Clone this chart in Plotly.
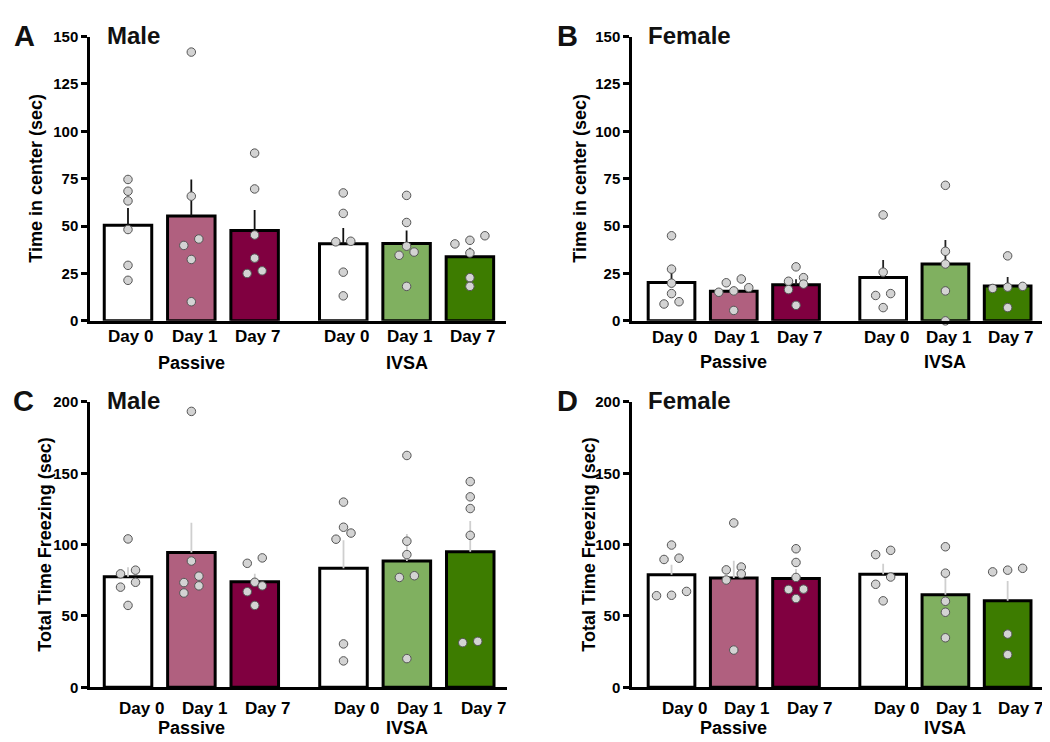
import plotly.graph_objects as go

# ---------------- data ----------------
days = ["Day 0", "Day 1", "Day 7"]
groups = ["Passive", "IVSA"]
bar_colors = ["#ffffff", "#b0607f", "#800040", "#ffffff", "#80b060", "#3d7c00"]

# Panel A: Male, time in center (sec)
a_mean = [50.5, 55.3, 47.7, 40.7, 40.8, 33.8]
a_sem = [9.0, 19.3, 10.8, 8.3, 6.9, 4.8]
a_points = [
    [74.6, 68.4, 63.3, 48.2, 29.3, 21.4],
    [141.8, 65.8, 43.2, 39.8, 32.4, 10.1],
    [88.5, 69.6, 45.3, 33.1, 26.4, 25.0],
    [67.5, 56.7, 41.7, 42.0, 25.7, 13.2],
    [66.2, 51.9, 36.3, 39.4, 34.6, 18.2],
    [42.5, 44.9, 40.6, 35.8, 22.8, 18.2],
]

# Panel B: Female, time in center (sec)
b_mean = [20.2, 15.6, 19.0, 22.9, 30.0, 18.4]
b_sem = [6.4, 2.4, 3.0, 9.2, 12.7, 4.7]
b_points = [
    [44.9, 27.3, 19.9, 14.4, 10.1, 8.9],
    [22.1, 20.1, 17.5, 15.1, 15.8, 5.5],
    [28.5, 20.9, 22.8, 19.4, 16.5, 8.2],
    [55.9, 25.7, 14.4, 13.4, 7.0],
    [71.5, 36.7, 30.0, 15.8, 0.0],
    [34.3, 18.2, 17.1, 17.8, 7.0],
]

# Panel C: Male, total time freezing (sec)
c_mean = [77.5, 94.5, 74.0, 83.4, 88.5, 95.0]
c_sem = [6.6, 20.9, 5.5, 19.6, 18.9, 21.6]
c_points = [
    [104.0, 82.1, 79.5, 73.6, 70.2, 57.4],
    [193.4, 88.5, 77.9, 73.4, 71.1, 66.1],
    [90.7, 86.9, 73.6, 71.1, 67.0, 57.4],
    [129.8, 112.2, 103.8, 108.1, 30.4, 18.5],
    [162.5, 102.4, 93.0, 78.2, 77.0, 20.1],
    [144.2, 133.5, 125.3, 106.5, 31.3, 32.2],
]

# Panel D: Female, total time freezing (sec)
d_mean = [78.8, 76.6, 76.3, 79.3, 64.8, 60.7]
d_sem = [7.1, 12.1, 6.7, 7.3, 12.9, 13.8]
d_points = [
    [99.7, 90.5, 89.6, 67.2, 64.2, 64.5],
    [115.2, 82.3, 84.3, 79.5, 75.2, 26.1],
    [97.1, 87.5, 77.0, 68.8, 68.6, 62.2],
    [96.0, 93.0, 77.3, 72.2, 60.6],
    [98.5, 80.0, 60.3, 52.6, 34.7],
    [82.1, 83.4, 80.9, 37.3, 22.9],
]

# ---------------- layout helpers ----------------
W, H = 1050, 742
FONT = "Liberation Sans"
positions = [0, 1, 2, 3.4, 4.4, 5.4]
BAR_W = 0.75

panels = [
    dict(key="", letter="A", title="Male", ytitle="Time in center (sec)",
         mean=a_mean, sem=a_sem, pts=a_points, px=(82, 498), py=(20, 311),
         xr=[-0.6, 5.97], yr=[0, 150], dt=25, ebc="#111111", ytx=28,
         lx=16, tx=97, ty=19, day_y=326.5, grp_y=354, dshift=3),
    dict(key="2", letter="B", title="Female", ytitle="Time in center (sec)",
         mean=b_mean, sem=b_sem, pts=b_points, px=(624, 1037), py=(20, 311),
         xr=[-0.635, 6.0], yr=[0, 150], dt=25, ebc="#222222", ytx=572,
         lx=559, tx=638, ty=19, day_y=328, grp_y=353, dshift=3),
    dict(key="3", letter="C", title="Male", ytitle="Total Time Freezing (sec)",
         mean=c_mean, sem=c_sem, pts=c_points, px=(82, 499), py=(394, 686),
         xr=[-0.6, 5.98], yr=[0, 200], dt=50, ebc="#cfcfcf", ytx=37,
         lx=15, tx=97, ty=393, day_y=708, grp_y=728, dshift=13),
    dict(key="4", letter="D", title="Female", ytitle="Total Time Freezing (sec)",
         mean=d_mean, sem=d_sem, pts=d_points, px=(624, 1037), py=(394, 686),
         xr=[-0.635, 6.0], yr=[0, 200], dt=50, ebc="#cfcfcf", ytx=581,
         lx=559, tx=638, ty=393, day_y=708, grp_y=728, dshift=13),
]


def swarm(vals, px_per_unit, diam=8.5, step_px=15.0):
    """Simple beeswarm: points closer than one marker diameter share a row."""
    order = sorted(range(len(vals)), key=lambda i: vals[i])
    offsets = [0.0] * len(vals)
    clusters = []
    for i in order:
        if clusters and (vals[i] - vals[clusters[-1][0]]) * px_per_unit < diam:
            clusters[-1].append(i)
        else:
            clusters.append([i])
    for c in clusters:
        n = len(c)
        for k, i in enumerate(c):
            offsets[i] = (k - (n - 1) / 2) * step_px
    return offsets


fig = go.Figure()
layout = dict(width=W, height=H, margin=dict(l=0, r=0, t=0, b=0),
              paper_bgcolor="white", plot_bgcolor="white", showlegend=False,
              font=dict(family=FONT, color="black"))
annotations = []

for p in panels:
    k = p["key"]
    xa, ya = "x" + k, "y" + k
    x0, x1 = p["px"]
    y0, y1 = p["py"]
    xpu = (x1 - x0) / (p["xr"][1] - p["xr"][0])
    ypu = (y1 - y0) / (p["yr"][1] - p["yr"][0])

    layout["xaxis" + k] = dict(domain=[x0 / W, x1 / W], range=p["xr"], anchor=ya,
                               showline=True, linewidth=2.5, linecolor="black",
                               showticklabels=False, ticks="", showgrid=False,
                               zeroline=False, fixedrange=True)
    layout["yaxis" + k] = dict(domain=[1 - y1 / H, 1 - y0 / H], range=p["yr"], anchor=xa,
                               showline=True, linewidth=2.5, linecolor="black",
                               ticks="outside", ticklen=6, tickwidth=2.5, tickcolor="black",
                               tickvals=list(range(0, p["yr"][1] + 1, p["dt"])),
                               tickfont=dict(family=FONT, size=15, weight="bold"),
                               showgrid=False, zeroline=False, fixedrange=True)

    fig.add_trace(go.Bar(
        x=positions, y=p["mean"], width=BAR_W, xaxis=xa, yaxis=ya,
        marker=dict(color=bar_colors, line=dict(color="black", width=3)),
        error_y=dict(type="data", symmetric=False, array=p["sem"],
                     arrayminus=[0] * len(p["sem"]), color=p["ebc"],
                     thickness=1.8, width=0),
        hoverinfo="skip"))

    for pos, vals in zip(positions, p["pts"]):
        offs = swarm(vals, ypu)
        fig.add_trace(go.Scatter(
            x=[pos + o / xpu for o in offs], y=vals, mode="markers",
            xaxis=xa, yaxis=ya, cliponaxis=False,
            marker=dict(size=8.5, color="#d3d3d3", line=dict(color="#555555", width=1)),
            hoverinfo="skip"))

    # panel letter and title
    annotations.append(dict(text=p["letter"], xref="paper", yref="paper",
                            x=p["lx"] / W, y=1 - p["ty"] / H, xanchor="center",
                            yanchor="middle", showarrow=False,
                            font=dict(family=FONT, size=29, weight="bold", color="#111")))
    annotations.append(dict(text=p["title"], xref="paper", yref="paper",
                            x=p["tx"] / W, y=1 - p["ty"] / H, xanchor="left",
                            yanchor="middle", showarrow=False,
                            font=dict(family=FONT, size=24, weight="bold", color="#111")))
    # y title
    annotations.append(dict(text=p["ytitle"], xref="paper", yref="paper",
                            x=p["ytx"] / W, y=1 - (y0 + y1) / 2 / H, textangle=-90,
                            xanchor="center", yanchor="middle", showarrow=False,
                            font=dict(family=FONT, size=18, weight="bold")))
    # category labels
    for i, pos in enumerate(positions):
        annotations.append(dict(text=days[i % 3], xref=xa, yref="paper", x=pos,
                                y=1 - p["day_y"] / H, xshift=p["dshift"],
                                xanchor="center", yanchor="middle", showarrow=False,
                                font=dict(family=FONT, size=17, weight="bold")))
    for g, gname in enumerate(groups):
        annotations.append(dict(text=gname, xref=xa, yref="paper",
                                x=positions[g * 3 + 1], y=1 - p["grp_y"] / H,
                                xanchor="center", yanchor="middle", showarrow=False,
                                font=dict(family=FONT, size=18, weight="bold")))

layout["annotations"] = annotations
fig.update_layout(**layout)
fig.write_html("out.html")
